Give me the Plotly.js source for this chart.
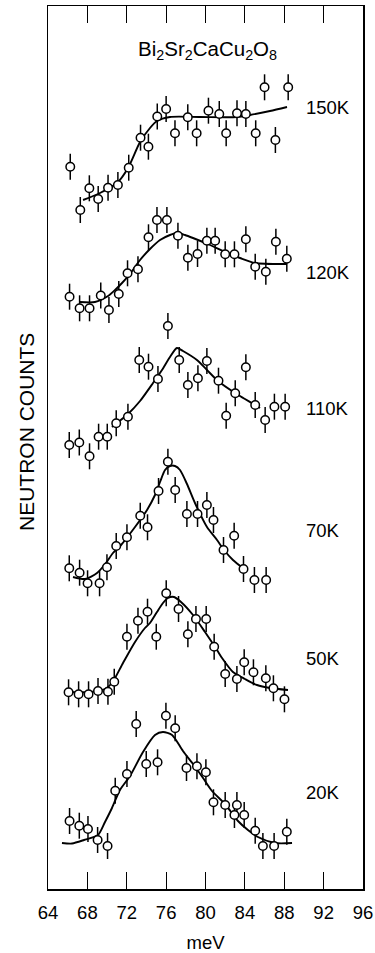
<!DOCTYPE html>
<html>
<head>
<meta charset="utf-8">
<script src="https://cdn.plot.ly/plotly-3.0.1.min.js"></script>
<style>
  html, body { margin: 0; padding: 0; background: #fff; }
  #chart { width: 375px; height: 953px; }
</style>
</head>
<body>
<div id="chart"></div>
<script>
// Bi2Sr2CaCu2O8 inelastic neutron scans: energy transfer (meV) vs counts (arb. units),
// one scan per temperature, with the fitted lineshape for each.

const temps = ['20K', '50K', '70K', '110K', '120K', '150K'];

const energy20 = [66.19, 67.18, 68.06, 69.04, 70.05, 70.83, 72.02, 72.96, 73.98, 75.13, 75.98, 76.92, 78.07, 79.13, 80.04, 80.81, 82.0, 82.94, 83.19, 83.93, 85.05, 85.83, 86.97, 88.26];
const counts20 = [38, 33.3, 30, 19, 13, 68.3, 85, 135, 95, 96.7, 143.3, 130.7, 91, 92.8, 86.7, 56.7, 54, 44, 54, 44, 28.3, 13, 13, 27.3];
const fitEnergy20 = [65.42, 66.44, 67.66, 69.08, 69.79, 70.5, 71.31, 72.33, 73.65, 74.87, 75.68, 76.6, 77.71, 78.73, 79.75, 80.66, 81.98, 83.3, 84.31, 85.33, 87.06, 88.79];
const fit20 = [16, 15.5, 19, 24, 37, 51, 69, 83, 107, 124, 127, 124, 108, 95, 81, 68, 55, 38, 29, 22, 16, 16];

const energy50 = [66.09, 67.11, 68.12, 69.08, 70.09, 70.73, 72.02, 73.14, 74.11, 75.0, 76.01, 77.26, 78.21, 79.03, 80.07, 80.88, 82.0, 83.19, 83.93, 84.87, 86.13, 86.9, 88.02];
const counts50 = [26.7, 24.7, 24.7, 28, 27.3, 37.3, 82.3, 98.3, 107.3, 82.3, 125.7, 110, 84.7, 100, 100, 72.3, 45, 40, 56.7, 46.7, 40.7, 30.7, 19.7];
const fitEnergy50 = [66.03, 68.27, 69.79, 70.5, 71.62, 72.84, 73.85, 74.36, 75.07, 75.68, 76.19, 76.8, 77.51, 78.73, 79.95, 81.17, 81.68, 82.79, 84.01, 85.23, 86.55, 88.38];
const fit50 = [27, 27, 30, 36, 56, 77, 91, 96, 107, 116, 121, 122, 117, 104, 87, 69, 61, 47, 40, 34, 31, 29];

const energy70 = [66.16, 67.21, 68.02, 69.24, 69.99, 70.93, 72.02, 73.37, 74.11, 75.23, 76.18, 76.92, 78.11, 79.19, 80.14, 80.81, 81.83, 82.91, 83.86, 84.97, 86.16];
const counts70 = [30.7, 26.3, 15.7, 15.7, 31.7, 53, 61.7, 83.3, 71.7, 108, 137.3, 109, 85, 85, 94, 79, 49, 63.3, 30, 19, 19];
const fitEnergy70 = [66.54, 67.76, 68.98, 69.89, 70.6, 71.42, 72.84, 74.06, 74.87, 75.38, 75.89, 76.39, 76.9, 77.41, 78.12, 78.93, 80.15, 81.17, 81.88, 82.79, 83.81, 84.11];
const fit70 = [22, 20, 26, 36, 46, 54, 72, 89, 104, 117, 129, 133, 133, 129, 115, 96, 72, 59, 49, 39, 31, 29];

const energy110 = [66.16, 67.18, 68.22, 69.14, 70.02, 70.93, 72.12, 73.27, 74.21, 75.17, 76.18, 77.33, 78.21, 79.23, 80.14, 81.32, 82.1, 83.02, 84.1, 85.05, 86.06, 87.0, 88.09];
const counts110 = [24, 26.5, 12.7, 32.3, 32.3, 45.7, 52.3, 109, 102.3, 90, 143, 109, 84, 90.7, 108, 88.3, 53.3, 75.7, 101.7, 64, 49, 62.3, 62.3];
const fitEnergy110 = [70.5, 71.01, 72.13, 73.35, 74.67, 75.58, 76.39, 77.1, 77.71, 79.13, 80.15, 81.27, 83.0, 84.01, 85.03, 85.54];
const fit110 = [42, 46, 55, 68, 86, 99, 112, 121, 118, 109, 99, 88, 76, 70, 64, 61];

const energy120 = [66.19, 67.21, 68.22, 69.36, 70.19, 71.19, 72.08, 73.14, 74.21, 75.07, 76.08, 77.2, 78.21, 79.19, 80.14, 80.98, 82.0, 82.94, 84.1, 85.05, 86.13, 87.15, 88.26];
const counts120 = [32.3, 20.7, 20.7, 33.5, 19.0, 35.0, 55.7, 59.7, 91.7, 109.0, 109.0, 93.3, 71.3, 75.0, 88.3, 88.3, 74.7, 74.7, 89.7, 62.3, 57.3, 87.3, 70.3];
const fitEnergy120 = [67.25, 68.77, 70.1, 70.81, 71.52, 72.33, 73.35, 74.36, 75.38, 76.39, 77.1, 77.92, 78.73, 80.46, 81.98, 83.5, 85.03, 88.28];
const fit120 = [27, 27, 33, 39, 46, 55, 69, 80, 89, 94, 96, 94, 91, 84, 77, 71, 66, 65];

const energy150 = [66.26, 67.28, 68.2, 69.1, 70.1, 71.1, 72.2, 73.4, 74.2, 75.1, 76.0, 76.9, 78.2, 79.1, 80.3, 81.4, 82.1, 83.2, 84.1, 85.1, 86.0, 87.1, 88.4];
const counts150 = [52.3, 9.0, 30.7, 20.0, 31.3, 34.0, 51.3, 81.3, 72.3, 102.5, 110.0, 85.7, 101.7, 85.7, 108.3, 105.0, 85.7, 105.7, 105.0, 85.7, 131.7, 79.0, 131.7];
const fitEnergy150 = [67.56, 69.28, 71.01, 72.13, 73.35, 74.36, 75.07, 76.39, 79.44, 83.2, 84.52, 86.55, 88.28];
const fit150 = [19, 26, 36, 51, 77, 91, 98, 102, 102, 102, 104, 108, 112];

// statistical error on every count (one sigma)
const countError = 13;

const xTicks = [64, 68, 72, 76, 80, 84, 88, 92, 96];

// ---- presentation ----
const scans = [
  { e: energy20,  c: counts20,  fe: fitEnergy20,  f: fit20 },
  { e: energy50,  c: counts50,  fe: fitEnergy50,  f: fit50 },
  { e: energy70,  c: counts70,  fe: fitEnergy70,  f: fit70 },
  { e: energy110, c: counts110, fe: fitEnergy110, f: fit110 },
  { e: energy120, c: counts120, fe: fitEnergy120, f: fit120 },
  { e: energy150, c: counts150, fe: fitEnergy150, f: fit150 }
];
// vertical stacking of the scans and height of each temperature tag
const stackOffset = [30, 170, 290, 420, 560, 670];
const tagLevel = [67, 61, 69, 61, 57, 112];

const FONT = 'Liberation Sans, Arial, Helvetica, sans-serif';
const traces = [];
const annotations = [];

scans.forEach((s, i) => {
  const off = stackOffset[i];
  traces.push({
    type: 'scatter', mode: 'lines',
    x: s.fe, y: s.f.map(v => v + off),
    line: { color: '#000', width: 1.9, shape: 'spline', smoothing: 0.7 },
    hoverinfo: 'skip'
  });
  traces.push({
    type: 'scatter', mode: 'markers',
    x: s.e, y: s.c.map(v => v + off),
    marker: { symbol: 'circle', size: 8.5, color: '#fff', line: { color: '#000', width: 1.5 } },
    error_y: { type: 'constant', value: countError, width: 0, thickness: 1.5, color: '#000' },
    name: temps[i]
  });
  annotations.push({
    xref: 'x', yref: 'y', x: 90.05, y: off + tagLevel[i],
    xanchor: 'left', yanchor: 'middle', showarrow: false,
    text: temps[i], font: { family: FONT, size: 18.5, color: '#000' }
  });
});

annotations.push({
  xref: 'paper', yref: 'paper', x: 0.505, y: 0.95,
  xanchor: 'center', yanchor: 'middle', showarrow: false,
  text: 'Bi<sub>2</sub>Sr<sub>2</sub>CaCu<sub>2</sub>O<sub>8</sub>',
  font: { family: FONT, size: 20.5, color: '#000' }
});
annotations.push({
  xref: 'paper', yref: 'paper', x: -0.07, y: 0.5175,
  xanchor: 'center', yanchor: 'middle', showarrow: false, textangle: -90,
  text: 'NEUTRON COUNTS',
  font: { family: FONT, size: 21, color: '#000' }
});

const layout = {
  width: 375, height: 953,
  margin: { l: 48, r: 12, t: 6, b: 64 },
  paper_bgcolor: '#fff', plot_bgcolor: '#fff',
  showlegend: false,
  font: { family: FONT, size: 18, color: '#000' },
  xaxis: {
    range: [64, 96], tickmode: 'array', tickvals: xTicks, ticktext: xTicks.map(String),
    ticks: 'inside', ticklen: 17, tickwidth: 1.2, tickcolor: '#000',
    showline: true, linecolor: '#000', linewidth: 1.5, mirror: 'ticks',
    showgrid: false, zeroline: false, ticklabelstandoff: 6,
    tickfont: { family: FONT, size: 18.5, color: '#000' },
    title: { text: 'meV', font: { family: FONT, size: 18.5, color: '#000' }, standoff: 15 }
  },
  yaxis: {
    range: [0, 883], showticklabels: false, ticks: '',
    showline: true, linecolor: '#000', linewidth: 1.5, mirror: true,
    showgrid: false, zeroline: false
  },
  annotations: annotations
};

Plotly.newPlot('chart', traces, layout, { displayModeBar: false, staticPlot: true });
</script>
</body>
</html>
